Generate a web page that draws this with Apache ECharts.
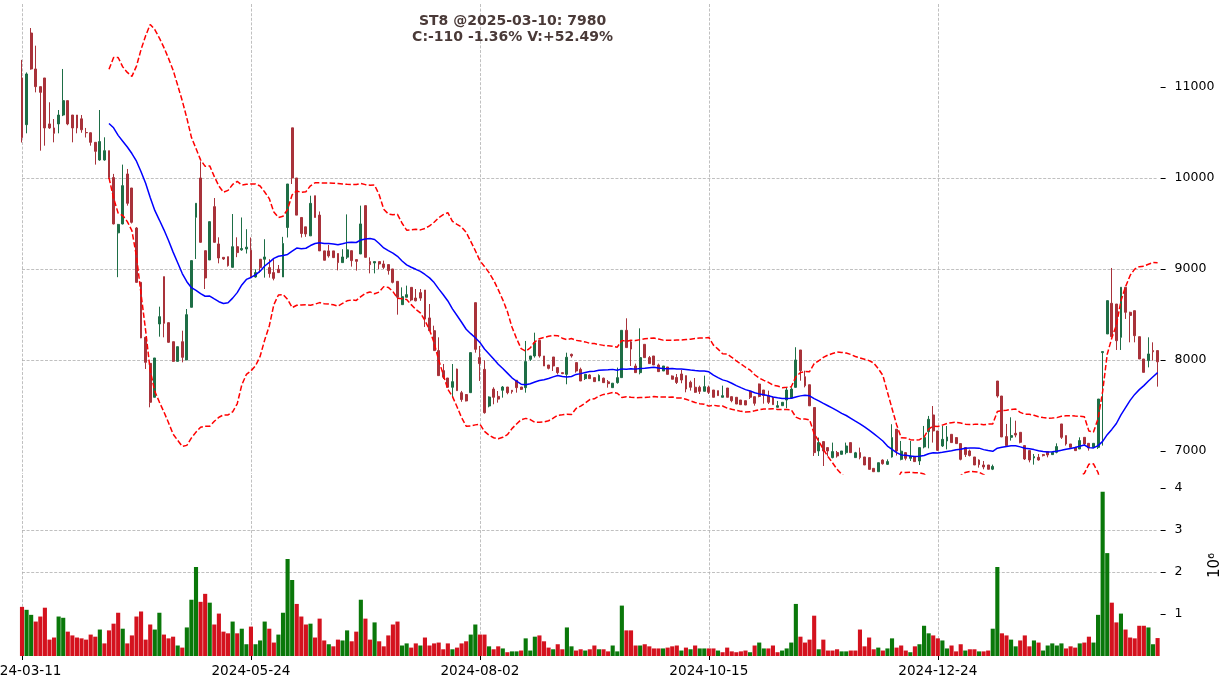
<!DOCTYPE html>
<html><head><meta charset="utf-8">
<script src="https://cdn.jsdelivr.net/npm/echarts@6/dist/echarts.min.js"></script>
<style>html,body{margin:0;padding:0;background:#fff}#c{width:1226px;height:690px}</style>
</head><body><div id="c"></div>
<script>
// x tick labels (every 50 trading days)
const tickDates = ['2024-03-11','2024-05-24','2024-08-02','2024-10-15','2024-12-24'];
const tickEvery = 50;
const priceTicks = [7000, 8000, 9000, 10000, 11000];
const volTicks = [1, 2, 3, 4];

const opens = [
11099,10586,11593,11198,11004,11099,10594,10550,10594,10692,
10850,10692,10692,10650,10500,10497,10392,10198,10198,10300,
10004,9397,9495,10044,9890,9450,8853,8249,7963,7590,
8396,8916,8410,8201,7985,8201,8000,8579,9568,10000,
9201,9099,9685,9275,9128,9135,9018,9245,9210,9220,
9206,8912,9107,9107,9015,8960,8997,8912,9456,10551,
10000,9566,9463,9364,9805,9592,9199,9199,9199,9170,
9070,9130,9201,9103,9165,9696,9081,9066,9081,9055,
9048,9000,8864,8608,8689,8798,8681,8740,8769,8462,
8322,8103,7883,7802,7700,7900,7640,7620,7641,8630,
8026,7897,7494,7680,7600,7667,7703,7667,7777,7703,
7696,8007,8044,8216,8044,7945,8033,7916,7861,7842,
8062,7971,7897,7795,7835,7806,7770,7800,7760,7696,
7751,7806,8326,8200,7934,7861,8172,8026,8044,7945,
7879,7923,7824,7808,7846,7828,7755,7700,7700,7656,
7700,7670,7663,7590,7692,7597,7590,7560,7553,7656,
7597,7736,7670,7608,7590,7480,7498,7560,7581,7699,
8110,7816,7728,7478,7000,7103,7037,6927,6982,6963,
6982,7092,6927,6982,6934,6927,6809,6772,6900,6853,
6934,7239,6908,6982,6919,6934,6890,7044,7212,7396,
7220,7055,7110,7183,7147,7081,7037,7000,6934,6900,
6846,6846,6800,7769,7604,7158,7150,7194,7205,7059,
7004,6923,6930,6960,6993,6960,6985,7297,7169,7077,
7040,7022,7150,7084,7040,7040,8081,8286,8623,8615,
8249,8799,8524,8542,8256,8011,7993,8103,8103];

const closes = [
10445,11143,11198,11004,10941,10550,10550,10491,10692,10850,
10594,10550,10550,10530,10497,10392,10293,10400,10300,10004,
9495,9490,9916,9722,9513,8853,8242,7974,7535,8022,
8476,8403,8194,7985,8146,8029,8498,9092,9722,9293,
8901,9520,9293,9121,9110,9037,9245,9180,9225,9240,
8905,8960,9015,9132,8949,8897,8960,9280,9934,10000,
9592,9390,9385,9721,9566,9199,9096,9144,9125,9070,
9132,9210,9092,9084,9495,9128,9048,9081,9055,9018,
8982,8853,8689,8696,8718,8659,8650,8680,8451,8322,
8103,7828,7810,7700,7762,7663,7565,7550,8081,8117,
7960,7421,7593,7590,7570,7703,7641,7652,7696,7677,
7982,8044,8190,8044,7934,7908,7934,7861,7850,8030,
8045,7879,7769,7842,7795,7762,7830,7751,7740,7745,
7806,8326,8136,8120,7861,8026,8026,7960,7945,7872,
7934,7842,7788,7753,7780,7681,7700,7645,7655,7707,
7645,7590,7608,7608,7590,7553,7516,7509,7505,7590,
7524,7600,7610,7535,7509,7498,7535,7670,7680,8000,
7882,7717,7496,6982,7092,7000,7000,6993,6945,7000,
7055,6982,6980,6927,6846,6798,6772,6871,6860,6883,
7147,7000,6998,6919,6945,6883,7037,7147,7348,7220,
7007,7128,7154,7092,7081,6908,6960,6950,6846,6850,
6824,6799,6830,7604,7154,7059,7169,7175,7095,6912,
6901,6938,6901,6949,6956,6985,7048,7150,7077,7040,
7004,7114,7077,7033,7084,7571,8092,8652,8256,8212,
8799,8524,8490,8267,8011,7864,8066,8090,7980];

const lows = [
10390,10491,11190,10941,10300,10355,10540,10392,10491,10680,
10580,10392,10491,10497,10445,10355,10147,10190,10190,9990,
9490,8910,9490,9696,9500,8850,8240,7901,7480,7590,
8256,8249,8190,7980,7985,7974,8000,8579,9110,9290,
8780,9099,9290,9062,9100,9026,9018,9130,9200,9170,
8905,8905,8960,8905,8905,8875,8960,8912,9346,9934,
9592,9346,9353,9364,9566,9199,9096,9125,9120,8985,
9070,9110,9026,8982,9165,9128,8952,8952,9000,9000,
8938,8842,8498,8608,8689,8645,8645,8650,8363,8322,
8103,7828,7791,7700,7590,7660,7540,7545,7641,8080,
7769,7410,7480,7513,7531,7586,7623,7630,7641,7670,
7641,7989,8026,8026,7934,7897,7879,7842,7845,7733,
8026,7861,7769,7780,7795,7762,7770,7751,7696,7696,
7740,7806,8136,7934,7861,7842,8026,7960,7945,7872,
7879,7842,7788,7736,7744,7645,7663,7640,7626,7656,
7626,7590,7608,7590,7590,7535,7516,7509,7505,7571,
7498,7590,7520,7516,7509,7480,7498,7470,7575,7699,
7772,7699,7496,6945,6945,6835,6945,6919,6927,6963,
6963,6982,6927,6908,6846,6798,6772,6772,6850,6846,
6927,6950,6897,6897,6890,6883,6846,7029,7029,7092,
7000,7044,7018,7092,7081,6897,6934,6940,6846,6817,
6799,6799,6790,7586,7154,7059,7114,7150,7084,6901,
6875,6850,6894,6940,6930,6960,6974,7132,7059,7040,
7004,7022,7059,7004,7040,7022,7059,8286,8256,8110,
8110,8451,8194,8194,8011,7864,7919,7993,7707];

const highs = [
11298,11160,11648,11454,11004,11099,10832,10648,10747,11198,
10850,10692,10692,10692,10550,10500,10392,10747,10447,10300,
10045,9495,10147,10099,9890,9460,8853,8249,7963,8022,
8586,8916,8410,8201,8146,8322,8560,9092,9722,10183,
9201,9520,9780,9348,9128,9135,9604,9348,9566,9437,
9346,8997,9107,9327,9107,9107,9044,9353,9934,10551,
10000,9566,9463,9805,9805,9632,9199,9265,9199,9170,
9217,9600,9201,9103,9696,9696,9128,9081,9081,9092,
9048,9000,8864,8798,8817,8798,8780,8780,8769,8615,
8377,8249,7956,7802,7956,7905,7660,7625,8081,8630,
8154,7996,7600,7700,7659,7714,7703,7670,7777,7703,
8209,8044,8300,8216,8044,7945,8033,7916,7861,8080,
8070,7971,7916,7842,7842,7806,7842,7806,7780,7745,
7916,8326,8458,8210,7960,8348,8172,8044,8044,7960,
7934,7923,7830,7846,7890,7828,7773,7802,7718,7828,
7718,7670,7663,7718,7692,7597,7590,7560,7553,7656,
7597,7740,7670,7663,7590,7550,7535,7700,7700,8140,
8110,7882,7728,7478,7147,7103,7037,7092,7000,7000,
7092,7092,6990,7037,6934,6927,6809,6871,6908,6908,
7294,7240,7110,6982,7110,6934,7037,7275,7385,7494,
7220,7275,7275,7183,7150,7081,7037,7015,6934,6908,
6890,6846,6850,7769,7604,7297,7370,7333,7205,7059,
7004,6967,6967,6965,6993,6985,7084,7297,7169,7077,
7040,7150,7150,7084,7084,7571,8092,8652,9011,8615,
8799,8799,8530,8542,8256,8011,8249,8194,8103];

// volume in millions (axis shows x10^6)
const volumes = [
1.17,1.10,0.98,0.82,0.94,1.15,0.39,0.44,0.94,0.91,
0.58,0.49,0.44,0.42,0.39,0.51,0.46,0.63,0.30,0.61,
0.77,1.03,0.65,0.30,0.49,0.94,1.06,0.39,0.75,0.63,
1.03,0.51,0.42,0.46,0.25,0.20,0.68,1.34,2.12,1.29,
1.48,1.27,0.75,1.01,0.58,0.54,0.82,0.54,0.65,0.28,
0.70,0.28,0.37,0.82,0.65,0.32,0.51,1.03,2.31,1.81,
1.24,0.94,0.75,0.77,0.44,0.89,0.37,0.28,0.23,0.39,
0.37,0.61,0.35,0.58,1.34,0.89,0.39,0.80,0.35,0.23,
0.49,0.75,0.82,0.25,0.30,0.20,0.30,0.25,0.44,0.25,
0.30,0.32,0.16,0.30,0.16,0.20,0.30,0.35,0.51,0.75,
0.51,0.51,0.23,0.16,0.23,0.18,0.09,0.11,0.11,0.13,
0.42,0.13,0.46,0.49,0.35,0.20,0.16,0.28,0.16,0.68,
0.23,0.13,0.16,0.13,0.16,0.25,0.16,0.16,0.11,0.25,
0.11,1.20,0.61,0.61,0.25,0.25,0.28,0.23,0.18,0.18,
0.18,0.20,0.23,0.25,0.13,0.20,0.16,0.25,0.18,0.18,
0.18,0.18,0.13,0.09,0.20,0.11,0.09,0.11,0.13,0.09,
0.25,0.32,0.18,0.18,0.25,0.09,0.13,0.18,0.32,1.24,
0.46,0.32,0.39,0.96,0.16,0.39,0.13,0.13,0.16,0.11,
0.11,0.13,0.13,0.63,0.23,0.44,0.16,0.20,0.13,0.18,
0.42,0.20,0.25,0.13,0.09,0.23,0.28,0.72,0.54,0.49,
0.42,0.37,0.18,0.25,0.11,0.28,0.13,0.16,0.16,0.11,
0.11,0.13,0.65,2.12,0.54,0.49,0.39,0.23,0.37,0.49,
0.23,0.37,0.32,0.13,0.25,0.30,0.25,0.30,0.18,0.23,
0.20,0.30,0.32,0.46,0.32,0.98,3.91,2.45,1.27,0.80,
1.01,0.63,0.44,0.42,0.72,0.72,0.68,0.28,0.427];

const UP = '#1e6e46', DOWN = '#a8323a';
const VUP = '#0a780a', VDOWN = '#d4121e';
const GRID = {color: '#b0b0b0', width: 0.8, type: [3, 1.6]};
const FONT = 'DejaVu Sans';

const N = closes.length;
const cats = closes.map((_, i) => String(i));
const candle = closes.map((c, i) => [opens[i], c, lows[i], highs[i]]);
const volData = volumes.map((v, i) => ({
  value: v,
  itemStyle: {color: (i > 0 && closes[i] > closes[i - 1]) ? VUP : VDOWN}
}));
// Bollinger (20, 2) from closes
const mid = [], upper = [], lower = [];
for (let i = 0; i < N; i++) {
  if (i < 19) { mid.push('-'); upper.push('-'); lower.push('-'); continue; }
  const w = closes.slice(i - 19, i + 1);
  const m = w.reduce((a, b) => a + b, 0) / 20;
  const s = Math.sqrt(w.reduce((a, b) => a + (b - m) * (b - m), 0) / 19);
  mid.push(m); upper.push(m + 2 * s); lower.push(m - 2 * s);
}
const labelFmt = (v, i) => (i % tickEvery === 0 && tickDates[i / tickEvery]) ? tickDates[i / tickEvery] : '';
const numFmt = v => String(v);

const chart = echarts.init(document.getElementById('c'), null, {renderer: 'canvas'});
chart.setOption({
  animation: false,
  backgroundColor: '#ffffff',
  title: {
    text: 'ST8 @2025-03-10: 7980\nC:-110 -1.36% V:+52.49%',
    left: 'center', top: 8, textAlign: 'center',
    textStyle: {fontFamily: FONT, fontSize: 14, fontWeight: 'bold', color: '#4a3a38', lineHeight: 16}
  },
  grid: [
    {left: 22, right: 68.4, top: 4, height: 470, outerBoundsMode: 'none', containLabel: false},
    {left: 22, right: 68.4, top: 475, height: 181, outerBoundsMode: 'none', containLabel: false}
  ],
  xAxis: [
    {type: 'category', gridIndex: 0, data: cats, boundaryGap: false,
     axisLine: {show: false}, axisTick: {show: false}, axisLabel: {show: false},
     splitLine: {show: true, interval: tickEvery - 1, lineStyle: GRID}},
    {type: 'category', gridIndex: 1, data: cats, boundaryGap: false,
     axisLine: {show: false},
     axisTick: {show: true, interval: tickEvery - 1, length: 4, lineStyle: {color: '#000', width: 1}},
     axisLabel: {show: true, interval: tickEvery - 1, formatter: labelFmt, margin: 8,
                 fontFamily: FONT, fontSize: 13.6, color: '#000'},
     splitLine: {show: true, interval: tickEvery - 1, lineStyle: GRID}}
  ],
  yAxis: [
    {type: 'value', gridIndex: 0, position: 'right', offset: 3, min: 6747, max: 11912, scale: true,
     axisLine: {show: false},
     axisTick: {show: true, length: 5, customValues: priceTicks, lineStyle: {color: '#000'}},
     axisLabel: {customValues: priceTicks, formatter: numFmt, margin: 14, fontFamily: FONT, fontSize: 12.5, color: '#000'},
     splitLine: {show: true, showMinLine: false, showMaxLine: false, lineStyle: GRID}},
    {type: 'value', gridIndex: 1, position: 'right', offset: 3, min: 0, max: 4.31, interval: 1,
     axisLine: {show: false},
     axisTick: {show: true, length: 5, customValues: volTicks, lineStyle: {color: '#000'}},
     axisLabel: {customValues: volTicks, formatter: numFmt, margin: 14, fontFamily: FONT, fontSize: 12.5, color: '#000'},
     splitLine: {show: true, showMinLine: false, showMaxLine: false, lineStyle: GRID},
     name: '10\u2076', nameLocation: 'middle', nameRotate: 90, nameGap: 47,
     nameTextStyle: {fontFamily: FONT, fontSize: 15, color: '#000'}}
  ],
  series: [
    {type: 'candlestick', xAxisIndex: 0, yAxisIndex: 0, data: candle, barWidth: '52%', clip: false,
     itemStyle: {color: UP, color0: DOWN, borderColor: UP, borderColor0: DOWN, borderWidth: 1}},
    {type: 'line', xAxisIndex: 0, yAxisIndex: 0, data: mid, symbol: 'none', smooth: false,
     lineStyle: {color: '#0000ff', width: 1.5}},
    {type: 'line', xAxisIndex: 0, yAxisIndex: 0, data: upper, symbol: 'none',
     lineStyle: {color: '#ff0000', width: 1.5, type: [5.5, 2.4]}},
    {type: 'line', xAxisIndex: 0, yAxisIndex: 0, data: lower, symbol: 'none',
     lineStyle: {color: '#ff0000', width: 1.5, type: [5.5, 2.4]}},
    {type: 'bar', xAxisIndex: 1, yAxisIndex: 1, data: volData, barWidth: '90%', clip: false}
  ]
});
</script>
</body></html>
